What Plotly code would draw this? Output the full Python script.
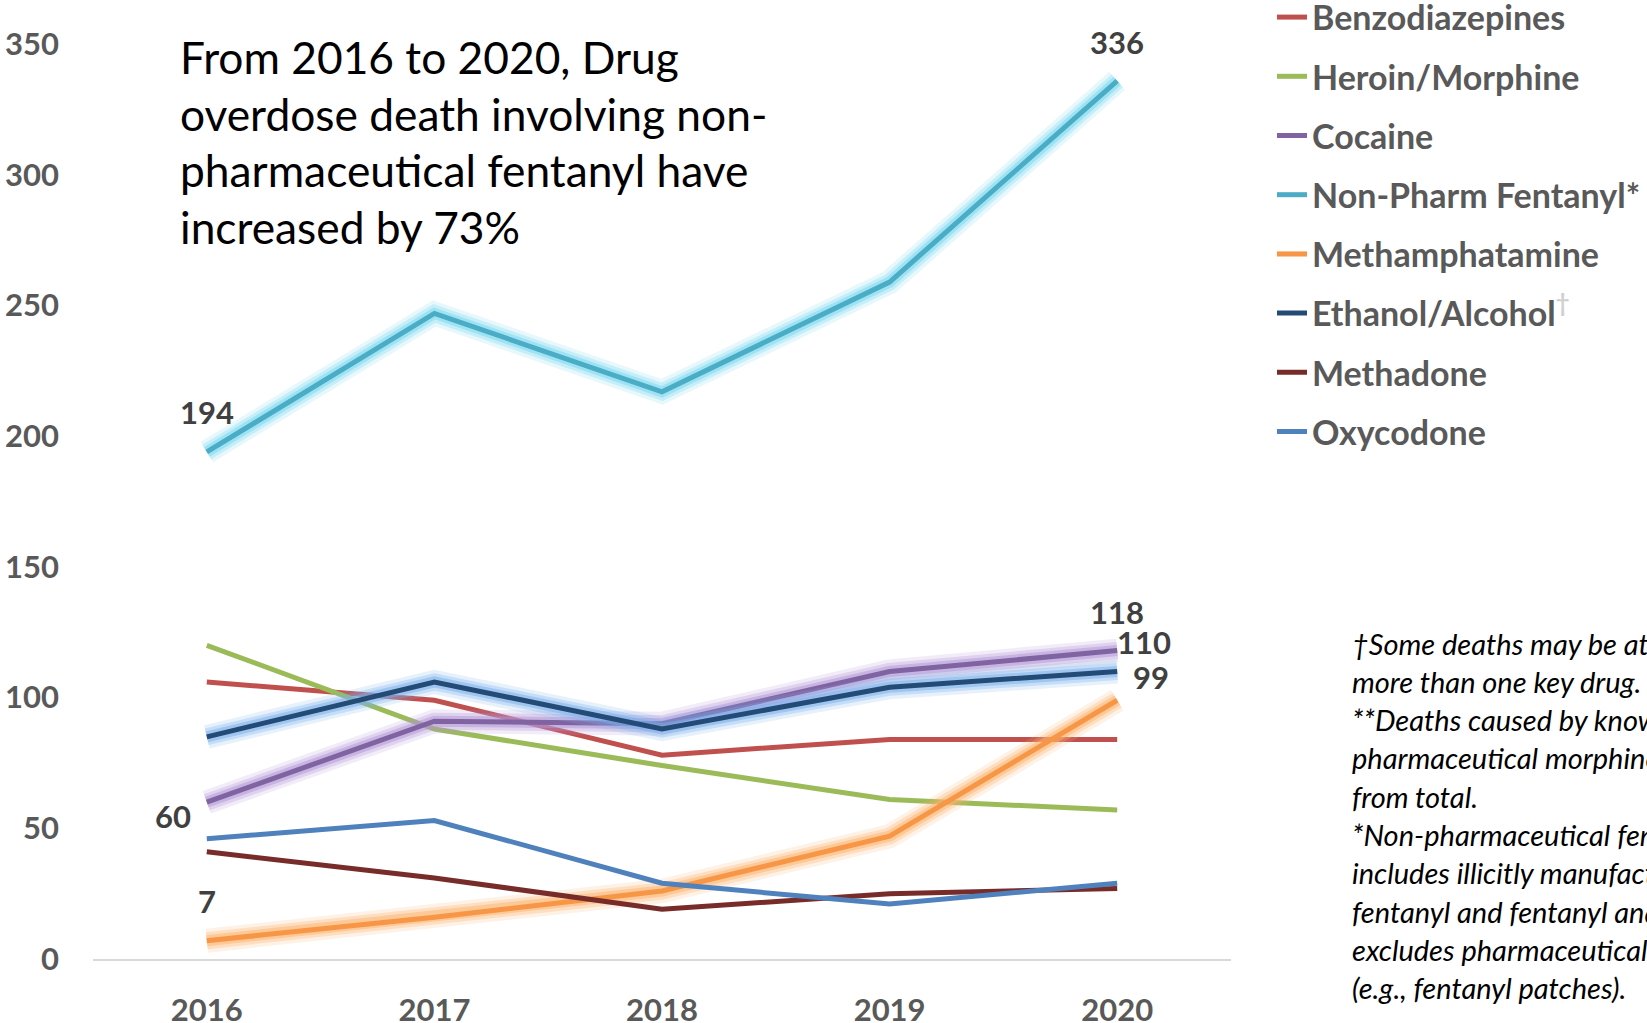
import plotly.graph_objects as go

# Overdose deaths by key drug involved, 2016-2020
years = [2016, 2017, 2018, 2019, 2020]

benzodiazepines = [106, 99, 78, 84, 84]
heroin_morphine = [120, 88, 74, 61, 57]
cocaine = [60, 91, 90, 110, 118]
non_pharm_fentanyl = [194, 247, 217, 259, 336]
methamphetamine = [7, 16, 26, 47, 99]
ethanol_alcohol = [85, 106, 88, 104, 110]
methadone = [41, 31, 19, 25, 27]
oxycodone = [46, 53, 29, 21, 29]

series_names = [
    "Benzodiazepines",
    "Heroin/Morphine",
    "Cocaine",
    "Non-Pharm Fentanyl*",
    "Methamphatamine",
    "Ethanol/Alcohol<span style='color:#d0d0d0'><sup>†</sup></span>",
    "Methadone",
    "Oxycodone",
]
series_values = [
    benzodiazepines,
    heroin_morphine,
    cocaine,
    non_pharm_fentanyl,
    methamphetamine,
    ethanol_alcohol,
    methadone,
    oxycodone,
]
series_colors = [
    "#C0504D",
    "#9BBB59",
    "#8064A2",
    "#4BACC6",
    "#F79646",
    "#244A76",
    "#772C2A",
    "#4F81BD",
]
# soft halo behind the highlighted series (None = no halo)
glow_colors = [
    None,
    None,
    "rgba(178,150,215,{a})",
    "rgba(120,215,240,{a})",
    "rgba(252,180,110,{a})",
    "rgba(120,175,235,{a})",
    None,
    None,
]

title_lines = [
    "From 2016 to 2020, Drug",
    "overdose death involving non-",
    "pharmaceutical fentanyl have",
    "increased by 73%",
]
footnote_lines = [
    "†Some deaths may be attributed to",
    "more than one key drug.",
    "**Deaths caused by known",
    "pharmaceutical morphine excluded",
    "from total.",
    "*Non-pharmaceutical fentanyl",
    "includes illicitly manufactured",
    "fentanyl and fentanyl analogs and",
    "excludes pharmaceutical fentanyl",
    "(e.g., fentanyl patches).",
]

W, H = 1647, 1023
M_L, M_R, M_T, M_B = 93, 416, 5, 64
PLOT_W = W - M_L - M_R
PLOT_H = H - M_T - M_B


def px_x(px):
    return (px - M_L) / PLOT_W


def px_y(py):
    return (H - M_B - py) / PLOT_H


NUM_FONT = "Lato"
TICK_GREY = "#595959"
LABEL_GREY = "#404040"

fig = go.Figure()

for i, (name, vals, color, glow) in enumerate(
    zip(series_names, series_values, series_colors, glow_colors)
):
    group = f"g{i}"
    if glow is not None:
        for w, a in [(24, 0.18), (17, 0.3), (11, 0.5)]:
            fig.add_trace(
                go.Scatter(
                    x=years,
                    y=vals,
                    mode="lines",
                    line=dict(color=glow.format(a=a), width=w),
                    legendgroup=group,
                    showlegend=False,
                    hoverinfo="skip",
                )
            )
    fig.add_trace(
        go.Scatter(
            x=years,
            y=vals,
            mode="lines",
            name=name,
            line=dict(color=color, width=5),
            legendgroup=group,
        )
    )

# value labels at the ends of the highlighted series
label_specs = [
    (non_pharm_fentanyl, 0, 0, 40, "center"),
    (non_pharm_fentanyl, 4, 0, 39, "center"),
    (cocaine, 0, -14, -14, "right"),
    (methamphetamine, 0, 0, 40, "center"),
    (cocaine, 4, 0, 39, "center"),
    (ethanol_alcohol, 4, 27, 29, "center"),
    (methamphetamine, 4, 34, 23, "center"),
]
annotations = []
for vals, idx, dx, dy, anchor in label_specs:
    annotations.append(
        dict(
            x=years[idx],
            y=vals[idx],
            xref="x",
            yref="y",
            text=str(vals[idx]),
            showarrow=False,
            xanchor=anchor,
            yanchor="middle",
            xshift=dx,
            yshift=dy,
            font=dict(family=NUM_FONT, size=31, color=LABEL_GREY, weight="bold"),
        )
    )

for k, line in enumerate(title_lines):
    annotations.append(
        dict(
            x=px_x(178),
            y=px_y(57 + 56.5 * k),
            xref="paper",
            yref="paper",
            text=line,
            showarrow=False,
            xanchor="left",
            yanchor="middle",
            font=dict(family="Lato", size=44.3, color="#000000"),
        )
    )

for k, line in enumerate(footnote_lines):
    annotations.append(
        dict(
            x=px_x(1350),
            y=px_y(643 + 38.3 * k),
            xref="paper",
            yref="paper",
            text=line,
            showarrow=False,
            xanchor="left",
            yanchor="middle",
            font=dict(family="Lato", size=29, color="#000000", style="italic"),
        )
    )

fig.update_layout(
    width=W,
    height=H,
    margin=dict(l=M_L, r=M_R, t=M_T, b=M_B, autoexpand=False),
    paper_bgcolor="white",
    plot_bgcolor="white",
    annotations=annotations,
    showlegend=True,
    legend=dict(
        xref="paper",
        yref="paper",
        x=px_x(1272),
        y=px_y(-11.5),
        xanchor="left",
        yanchor="top",
        font=dict(family=NUM_FONT, size=34, color=TICK_GREY, weight="bold"),
        tracegroupgap=12,
        bgcolor="rgba(0,0,0,0)",
        borderwidth=0,
    ),
    xaxis=dict(
        range=[2015.5, 2020.5],
        tickmode="array",
        tickvals=years,
        ticktext=[str(y) for y in years],
        showgrid=False,
        zeroline=False,
        showline=True,
        linecolor="#D9D9D9",
        linewidth=2,
        ticks="",
        ticklabelstandoff=23,
        tickfont=dict(family=NUM_FONT, size=31, color=TICK_GREY, weight="bold"),
        automargin=False,
        fixedrange=True,
    ),
    yaxis=dict(
        range=[0, 365],
        tickmode="array",
        tickvals=[0, 50, 100, 150, 200, 250, 300, 350],
        showgrid=False,
        zeroline=False,
        showline=False,
        ticks="",
        ticklabelstandoff=33,
        tickfont=dict(family=NUM_FONT, size=31, color=TICK_GREY, weight="bold"),
        automargin=False,
        fixedrange=True,
    ),
)

fig.write_html("out.html")
